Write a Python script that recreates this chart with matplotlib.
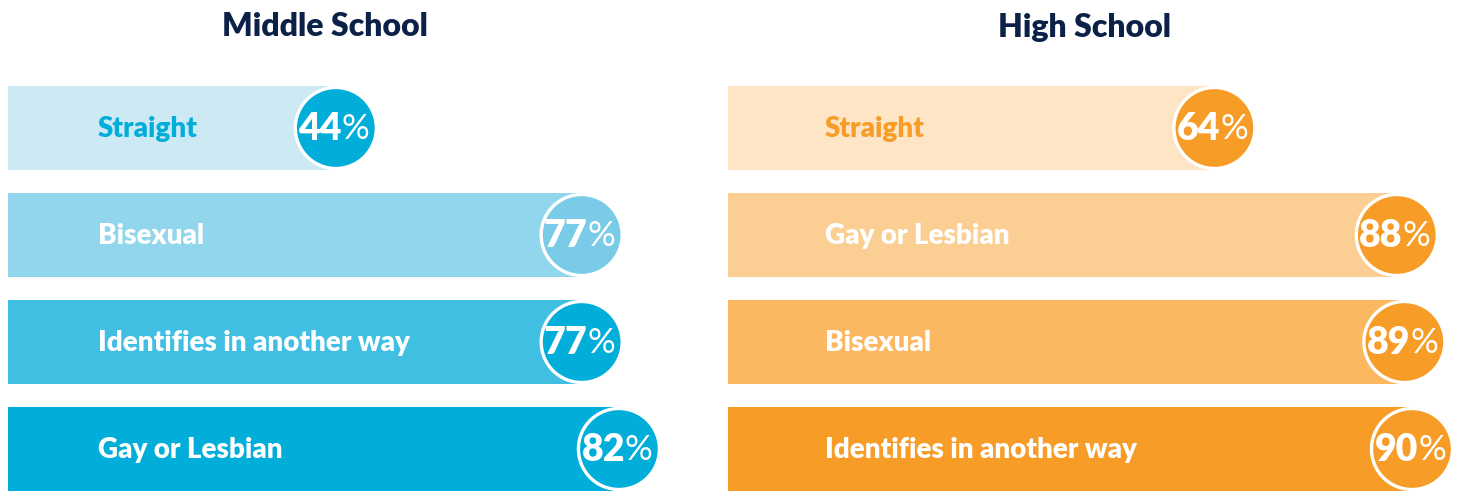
import matplotlib.pyplot as plt

W, H = 1463, 491

ms_labels = ['Straight', 'Bisexual', 'Identifies in another way', 'Gay or Lesbian']
ms_values = [44, 77, 77, 82]
ms_bar_colors = ['#cce9f4', '#92d6ed', '#40bfe2', '#00aed9']
ms_dot_colors = ['#00aed9', '#7acbe8', '#00aed9', '#00aed9']
ms_text_colors = ['#00aed9', 'white', 'white', 'white']

hs_labels = ['Straight', 'Gay or Lesbian', 'Bisexual', 'Identifies in another way']
hs_values = [64, 88, 89, 90]
hs_bar_colors = ['#fde5c6', '#fbcf94', '#fbb860', '#f79d27']
hs_dot_colors = ['#f79d27', '#f79d27', '#f79d27', '#f79d27']
hs_text_colors = ['#f79d27', 'white', 'white', 'white']

plt.rcParams['font.family'] = ['Lato', 'DejaVu Sans']

fig = plt.figure(figsize=(W / 100, H / 100), dpi=100)

rows = range(4)
bar_h = 84 / 107


def panel(left_px, px_per_pct, width_px, labels, values, bar_colors, dot_colors, text_colors, label_px):
    ax = fig.add_axes([left_px / W, 0, width_px / W, 405 / H])
    ax.set_xlim(0, width_px / px_per_pct)
    ax.set_ylim(3 + bar_h / 2, -bar_h / 2)
    ax.axis('off')
    ax.barh(rows, values, height=bar_h, color=bar_colors, zorder=1)
    ax.scatter(values, rows, s=(81 * 0.72) ** 2, c=dot_colors,
               edgecolors='white', linewidths=2.4, zorder=2, clip_on=False)
    for y, (lab, v, tc) in enumerate(zip(labels, values, text_colors)):
        ax.annotate(lab, xy=(0, y), xytext=(label_px, -1), textcoords='offset pixels',
                    ha='left', va='center', fontsize=20, fontweight='heavy', color=tc)
        ax.annotate(str(v), xy=(v, y), xytext=(6, -1), textcoords='offset pixels',
                    ha='right', va='center', fontsize=27, fontweight='heavy',
                    color='white', zorder=3)
        ax.annotate('%', xy=(v, y), xytext=(6, -1), textcoords='offset pixels',
                    ha='left', va='center', fontsize=25, fontweight='normal',
                    color='white', zorder=3)
    return ax


panel(8, 7.45, 680, ms_labels, ms_values, ms_bar_colors, ms_dot_colors, ms_text_colors, 90)
panel(728, 7.6, 735, hs_labels, hs_values, hs_bar_colors, hs_dot_colors, hs_text_colors, 97)

fig.text(325 / W, 1 - 27 / H, 'Middle School', ha='center', va='center',
         fontsize=23, fontweight='heavy', color='#0c2148')
fig.text(1085 / W, 1 - 27 / H, 'High School', ha='center', va='center',
         fontsize=23, fontweight='heavy', color='#0c2148')

plt.savefig('out.png', dpi=100)
